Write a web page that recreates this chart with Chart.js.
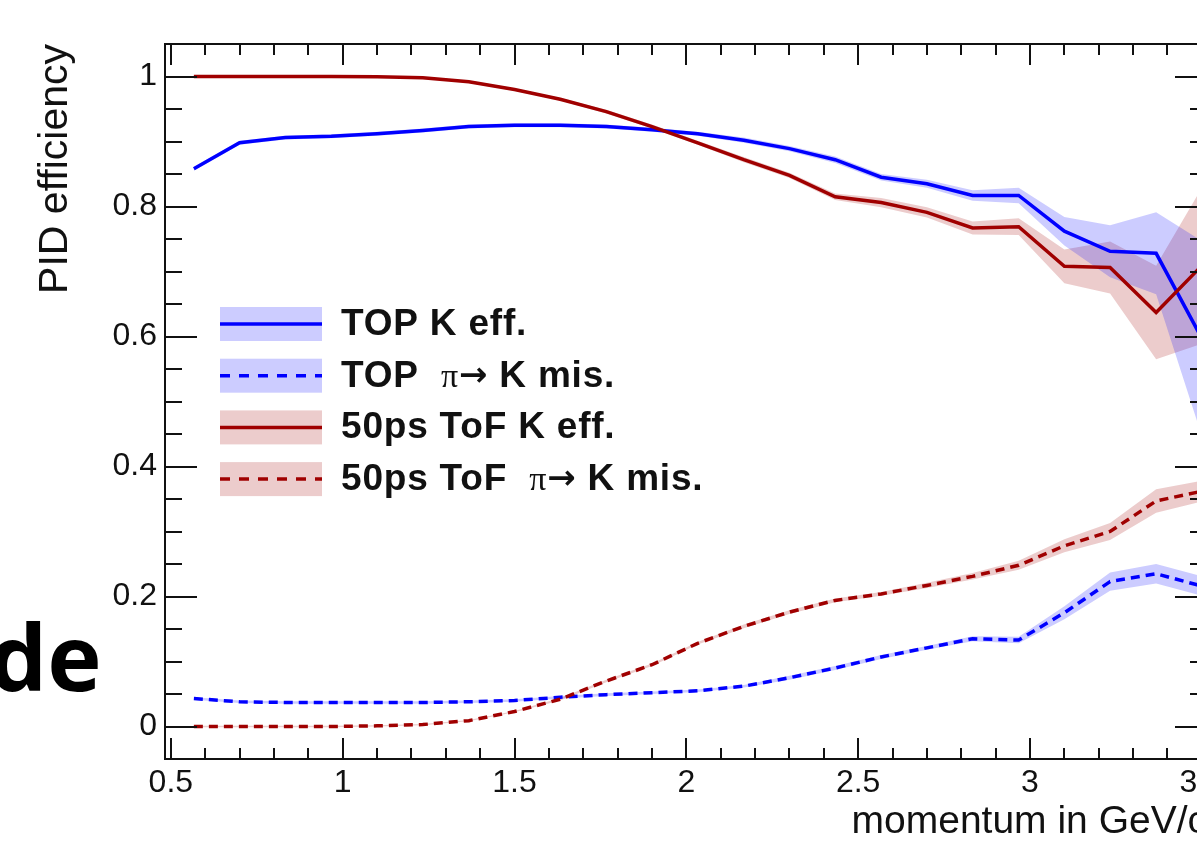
<!DOCTYPE html>
<html>
<head>
<meta charset="utf-8">
<title>PID efficiency vs momentum</title>
<script src="https://cdn.jsdelivr.net/npm/chart.js@4.4.1/dist/chart.umd.min.js"></script>
<style>
	html, body { margin: 0; padding: 0; background: #fff; }
	#wrap { position: relative; width: 1197px; height: 846px; overflow: hidden; }
	#plot { position: absolute; left: 0; top: 0; }
	#side { position: absolute; left: -11px; top: 610px; font: 700 92px 'Open Sans', sans-serif; line-height: 1; color: #000; white-space: nowrap; }
</style>
</head>
<body>
<div id="wrap">
	<canvas id="plot" width="1260" height="846"></canvas>
	<div id="side">de</div>
</div>
<script>
// bin centres in GeV/c
var momentum = [0.567, 0.7, 0.833, 0.967, 1.1, 1.233, 1.367, 1.5, 1.633, 1.767, 1.9, 2.033,
	2.167, 2.3, 2.433, 2.567, 2.7, 2.833, 2.967, 3.1, 3.233, 3.367, 3.5];

var topKEff = [0.858, 0.898, 0.906, 0.908, 0.912, 0.917, 0.923, 0.925, 0.925, 0.923, 0.918, 0.912,
	0.902, 0.889, 0.872, 0.845, 0.835, 0.817, 0.817, 0.762, 0.731, 0.728, 0.597];
var topKErr = [0.003, 0.003, 0.003, 0.003, 0.003, 0.003, 0.003, 0.003, 0.003, 0.003, 0.003, 0.003,
	0.004, 0.004, 0.005, 0.005, 0.006, 0.008, 0.012, 0.022, 0.04, 0.063, 0.15];

var topMis = [0.043, 0.038, 0.037, 0.037, 0.037, 0.037, 0.038, 0.040, 0.045, 0.049, 0.052, 0.055,
	0.062, 0.075, 0.090, 0.107, 0.121, 0.135, 0.133, 0.175, 0.223, 0.235, 0.216];
var topMisErr = [0.002, 0.002, 0.002, 0.002, 0.002, 0.002, 0.002, 0.002, 0.002, 0.002, 0.002, 0.002,
	0.002, 0.003, 0.003, 0.003, 0.003, 0.004, 0.005, 0.01, 0.014, 0.015, 0.015];

var tofKEff = [1.0, 1.0, 1.0, 1.0, 0.9995, 0.998, 0.992, 0.98, 0.965, 0.946, 0.923, 0.898,
	0.872, 0.848, 0.815, 0.806, 0.791, 0.767, 0.769, 0.708, 0.706, 0.637, 0.709];
var tofKErr = [0.001, 0.001, 0.001, 0.001, 0.001, 0.001, 0.002, 0.002, 0.002, 0.003, 0.003, 0.003,
	0.004, 0.004, 0.005, 0.007, 0.008, 0.010, 0.013, 0.026, 0.04, 0.072, 0.12];

var tofMis = [0.0, 0.0, 0.0, 0.0, 0.001, 0.003, 0.009, 0.023, 0.042, 0.070, 0.095, 0.128,
	0.154, 0.176, 0.194, 0.204, 0.217, 0.231, 0.248, 0.278, 0.300, 0.347, 0.362];
var tofMisErr = [0.001, 0.001, 0.001, 0.001, 0.001, 0.001, 0.001, 0.001, 0.002, 0.002, 0.002, 0.002,
	0.003, 0.003, 0.003, 0.003, 0.004, 0.005, 0.007, 0.01, 0.013, 0.018, 0.016];

var seriesLabels = ['TOP K eff.', 'TOP  π→ K mis.', '50ps ToF K eff.', '50ps ToF  π→ K mis.'];
var xTickValues = [0.5, 1, 1.5, 2, 2.5, 3, 3.5];
var yTickValues = [0, 0.2, 0.4, 0.6, 0.8, 1];

var SANS = "'Liberation Sans', Arial, sans-serif";
var INK = '#111';

var series = [
	{label: seriesLabels[0], values: topKEff, errors: topKErr, color: '#0000ff', band: 'rgba(0,0,255,0.2)', dashed: false},
	{label: seriesLabels[1], values: topMis, errors: topMisErr, color: '#0000ff', band: 'rgba(0,0,255,0.2)', dashed: true},
	{label: seriesLabels[2], values: tofKEff, errors: tofKErr, color: '#a00000', band: 'rgba(160,0,0,0.2)', dashed: false},
	{label: seriesLabels[3], values: tofMis, errors: tofMisErr, color: '#a00000', band: 'rgba(160,0,0,0.2)', dashed: true}
];

function points(vals, errs, sign) {
	return momentum.map(function (m, i) {
		return {x: m, y: vals[i] + sign * errs[i]};
	});
}

var datasets = [];
// error bands first: lower edge, then upper edge filled down to it
series.forEach(function (s) {
	datasets.push({data: points(s.values, s.errors, -1), borderColor: 'transparent', borderWidth: 0, pointRadius: 0, fill: false, order: 10});
	datasets.push({data: points(s.values, s.errors, 1), borderColor: 'transparent', borderWidth: 0, pointRadius: 0, fill: '-1', backgroundColor: s.band, order: 10});
});
series.forEach(function (s, i) {
	datasets.push({
		label: s.label,
		data: points(s.values, s.errors, 0),
		borderColor: s.color,
		borderWidth: 3.5,
		borderDash: s.dashed ? [9, 6] : [],
		pointRadius: 0,
		fill: false,
		tension: 0,
		order: 4 - i
	});
});

// ROOT style frame with inward ticks on all four sides
var rootAxes = {
	id: 'rootAxes',
	afterDatasetsDraw: function (chart) {
		var ctx = chart.ctx, a = chart.chartArea;
		var xs = chart.scales.x, ys = chart.scales.y;
		ctx.save();
		ctx.strokeStyle = INK;
		ctx.lineWidth = 2;
		ctx.strokeRect(a.left, a.top, a.right - a.left, a.bottom - a.top);
		ctx.beginPath();
		for (var k = 0; k <= 31; k++) {
			var v = 0.5 + k * 0.1;
			if (v > xs.max) break;
			var px = Math.round(xs.getPixelForValue(v));
			var len = (k % 5 === 0) ? 21 : 11;
			ctx.moveTo(px, a.bottom); ctx.lineTo(px, a.bottom - len);
			ctx.moveTo(px, a.top); ctx.lineTo(px, a.top + len);
		}
		for (var j = 1; j < 22; j++) {
			var w = -0.05 + j * 0.05;
			var py = Math.round(ys.getPixelForValue(w));
			var major = Math.abs(w / 0.2 - Math.round(w / 0.2)) < 1e-6;
			var l2 = major ? 32 : 17;
			ctx.moveTo(a.left, py); ctx.lineTo(a.left + l2, py);
			ctx.moveTo(a.right, py); ctx.lineTo(a.right - l2, py);
		}
		ctx.stroke();
		ctx.restore();
	}
};

// legend with error band swatches, drawn inside the frame
var rootLegend = {
	id: 'rootLegend',
	afterDraw: function (chart) {
		var ctx = chart.ctx, a = chart.chartArea;
		var x0 = a.left + 55, w = 102, y0 = a.top + 280, rowH = 51.7;
		ctx.save();
		series.forEach(function (s, i) {
			var yc = y0 + i * rowH;
			ctx.fillStyle = s.band;
			ctx.fillRect(x0, yc - 17, w, 34);
			ctx.strokeStyle = s.color;
			ctx.lineWidth = 3.5;
			ctx.setLineDash(s.dashed ? [10, 9] : []);
			ctx.beginPath();
			ctx.moveTo(x0, yc); ctx.lineTo(x0 + w, yc);
			ctx.stroke();
			ctx.setLineDash([]);

			var tx = x0 + w + 19, ty = yc + 11;
			ctx.fillStyle = INK;
			ctx.textBaseline = 'alphabetic';
			ctx.textAlign = 'left';
			ctx.letterSpacing = '0.8px';
			var parts = s.label.split('π');
			parts.forEach(function (p, n) {
				if (n > 0) {
					ctx.font = "34px 'Liberation Serif', serif";
					ctx.fillText('π', tx, ty);
					tx += ctx.measureText('π').width;
					ctx.font = "bold 34px 'DejaVu Sans', sans-serif";
					ctx.fillText('→', tx, ty - 1);
					tx += ctx.measureText('→').width;
					p = p.slice(1);
				}
				ctx.font = 'bold 37px ' + SANS;
				ctx.fillText(p, tx, ty);
				tx += ctx.measureText(p).width;
			});
		});
		ctx.restore();
	}
};

new Chart('plot', {
	type: 'line',
	data: {datasets: datasets},
	options: {
		responsive: false,
		devicePixelRatio: 1,
		animation: false,
		events: [],
		layout: {padding: {left: 0, top: 44, right: 53, bottom: 0}},
		plugins: {
			legend: {display: false},
			tooltip: {enabled: false},
			filler: {drawTime: 'beforeDatasetsDraw'}
		},
		scales: {
			x: {
				type: 'linear',
				min: 0.483,
				max: 3.515,
				grid: {display: false, drawTicks: false},
				border: {display: false},
				afterBuildTicks: function (scale) {
					scale.ticks = xTickValues.map(function (v) { return {value: v}; });
				},
				afterFit: function (scale) { scale.height = 87; },
				ticks: {
					autoSkip: false,
					maxRotation: 0,
					padding: 5,
					color: INK,
					font: {family: SANS, size: 32},
					callback: function (v) { return String(v); }
				},
				title: {
					display: true,
					text: 'momentum in GeV/c',
					align: 'end',
					color: INK,
					font: {family: SANS, size: 39},
					padding: {top: 0, bottom: 0}
				}
			},
			y: {
				min: -0.05,
				max: 1.05,
				grid: {display: false, drawTicks: false},
				border: {display: false},
				afterBuildTicks: function (scale) {
					scale.ticks = yTickValues.map(function (v) { return {value: v}; });
				},
				afterFit: function (scale) { scale.width = 165; },
				ticks: {
					autoSkip: false,
					padding: 8,
					color: INK,
					font: {family: SANS, size: 32},
					callback: function (v) { return String(v); }
				},
				title: {
					display: true,
					text: 'PID efficiency',
					align: 'end',
					color: INK,
					font: {family: SANS, size: 41},
					padding: {top: 31, bottom: 0}
				}
			}
		}
	},
	plugins: [rootAxes, rootLegend]
});
</script>
</body>
</html>
